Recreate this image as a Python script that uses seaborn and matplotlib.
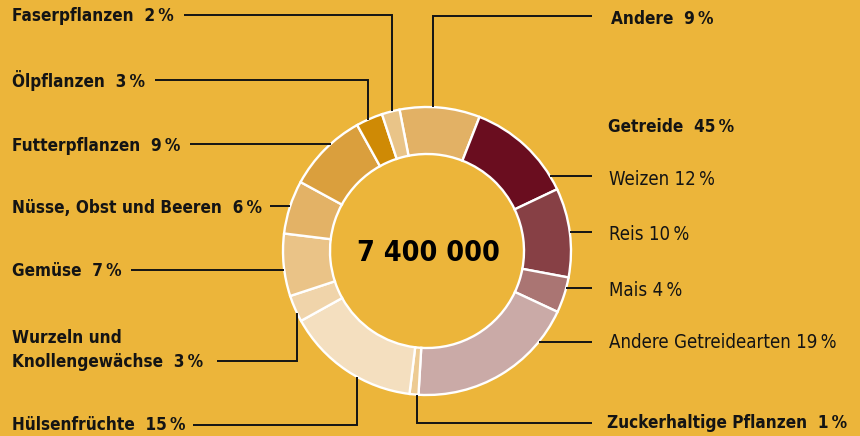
import matplotlib
matplotlib.use("Agg")
import matplotlib.pyplot as plt
from matplotlib import font_manager
import seaborn as sns
import numpy as np

# ---------------- data ----------------
categories = ["Andere", "Weizen", "Reis", "Mais", "Andere Getreidearten",
              "Zuckerhaltige Pflanzen", "Hülsenfrüchte", "Wurzeln und\nKnollengewächse",
              "Gemüse", "Nüsse, Obst und Beeren", "Futterpflanzen", "Ölpflanzen",
              "Faserpflanzen"]
shares = [9, 12, 10, 4, 19, 1, 15, 3, 7, 6, 9, 3, 2]
grain_members = ["Weizen", "Reis", "Mais", "Andere Getreidearten"]
group_label = "Getreide"
group_share = 45
total_label = "7 400 000"

# ---------------- style ----------------
palette = ["#E2B165", "#6A0D1F", "#874045", "#AA7573", "#CAAAA7", "#EDCB93",
           "#F4DFBF", "#F0D4AA", "#EAC387", "#E3B266", "#DA9F3D", "#CF8A05",
           "#E9C488"]
bg = "#ECB53A"
ink = "#141414"

sns.set_style("white")
names = {f.name for f in font_manager.fontManager.ttflist}
if "Liberation Sans Narrow" in names:
    FAM, STRETCH = ["Liberation Sans Narrow", "DejaVu Sans"], "normal"
else:
    FAM, STRETCH = ["DejaVu Sans"], "condensed"
plt.rcParams["font.family"] = FAM

W, H = 860, 436
CX, CY, R, RW = 427, 251, 144, 47   # ring geometry in pixels (y downward)
FS_BOLD, FS_REG = 12.3, 13.4

fig = plt.figure(figsize=(W / 100, H / 100), dpi=100, facecolor=bg)
ax = fig.add_axes([0, 0, 1, 1])
ax.set_facecolor(bg)

def Y(y):
    return H - y

ax.pie(shares, colors=palette, startangle=101, counterclock=False,
       radius=R, center=(CX, Y(CY)),
       wedgeprops=dict(width=RW, edgecolor="white", linewidth=1.7))
ax.set_xlim(0, W)
ax.set_ylim(0, H)
ax.set_aspect("auto")
ax.axis("off")

def ring_x(y, side):
    dx = np.sqrt(R ** 2 - (y - CY) ** 2)
    return CX - dx if side == "L" else CX + dx

def ring_y(x, part):
    dy = np.sqrt(R ** 2 - (x - CX) ** 2)
    return CY - dy if part == "top" else CY + dy

def pct_text(name, v, bold):
    sep = "  " if bold else " "
    return f"{name}{sep}{v}\u2009%"

# label layout: name -> (text x, baseline y, line y, line x near text, elbow x or None, elbow part)
layout = {
    "Faserpflanzen": (12, 21, 15, 184, 392, "top"),
    "Ölpflanzen": (12, 87, 80, 155, 368, "top"),
    "Futterpflanzen": (12, 151, 144, 190, None, None),
    "Nüsse, Obst und Beeren": (12, 213, 206, 270, None, None),
    "Gemüse": (12, 276, 270, 131, None, None),
    "Wurzeln und\nKnollengewächse": (12, 367, 361, 217, 297, "bottom"),
    "Hülsenfrüchte": (12, 430, 425, 193, 357, "bottom"),
    "Andere": (611, 24, 16, 592, 433, "top"),
    "Weizen": (609, 185, 176, 592, None, None),
    "Reis": (609, 240, 232, 592, None, None),
    "Mais": (609, 296, 288, 592, None, None),
    "Andere Getreidearten": (609, 348, 342, 592, None, None),
    "Zuckerhaltige Pflanzen": (607, 428, 423, 592, 417, "bottom"),
}

LW = 1.4
for name, v in zip(categories, shares):
    tx, tb, ly, lx, ex, part = layout[name]
    bold = name not in grain_members
    side = "L" if tx < CX else "R"
    ax.text(tx, Y(tb), pct_text(name, v, bold), ha="left", va="baseline",
            fontsize=FS_BOLD if bold else FS_REG,
            fontweight="bold" if bold else "normal",
            fontstretch=STRETCH, color=ink, linespacing=1.45)
    if ex is None:
        xs = [lx, ring_x(ly, side)]
        ys = [ly, ly]
    else:
        xs = [lx, ex, ex]
        ys = [ly, ly, ring_y(ex, part)]
    ax.plot(xs, [Y(y) for y in ys], color=ink, lw=LW, solid_capstyle="butt",
            solid_joinstyle="miter")

ax.text(608, Y(132), f"{group_label}  {group_share}\u2009%", ha="left", va="baseline",
        fontsize=FS_BOLD, fontweight="bold", fontstretch=STRETCH, color=ink)

ax.text(CX + 1, Y(CY + 2), total_label, ha="center", va="center", fontsize=20.5,
        fontweight="bold", fontstretch=STRETCH, color="black")

fig.savefig("out.png", dpi=100, facecolor=bg)
